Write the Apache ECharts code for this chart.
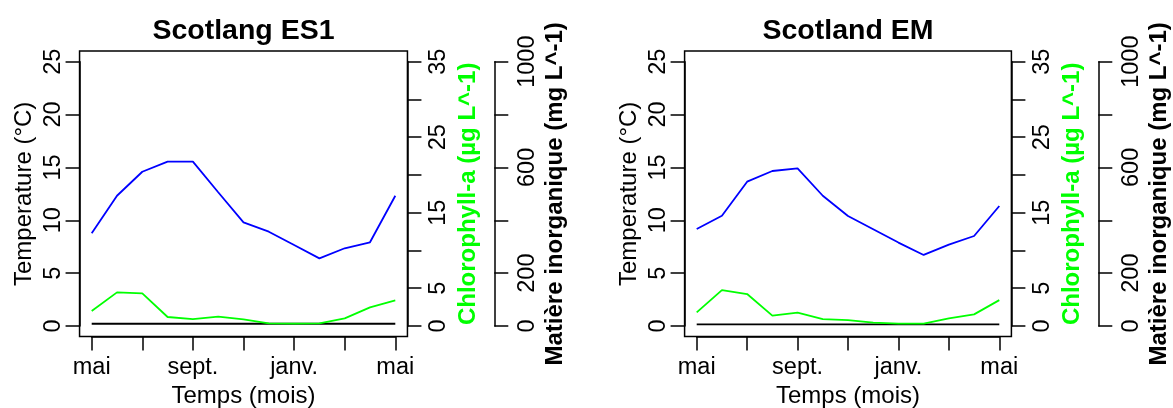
<!DOCTYPE html>
<html><head><meta charset="utf-8">
<script src="https://cdn.jsdelivr.net/npm/echarts@6/dist/echarts.min.js"></script>
<style>html,body{margin:0;padding:0;background:#fff}#c{width:1173px;height:408px}</style>
</head><body><div id="c"></div>
<script>
// ---- data ----
const months = ['mai','juin','juil.','août','sept.','oct.','nov.','déc.','janv.','févr.','mars','avr.','mai'];
const xTickLabels = ['mai','','sept.','','janv.','','mai'];          // ticks every 2 months
const tempTickLabels = ['0','5','10','15','20','25'];
const chlTickLabels = ['0','5','','15','','25','','35'];
const inorgTickLabels = ['0','200','','600','','1000'];

const tempES1 = [8.77, 12.32, 14.59, 15.54, 15.54, 12.65, 9.8, 8.92, 7.66, 6.40, 7.35, 7.92, 12.32];
const chlES1  = [1.98, 4.45, 4.32, 1.19, 0.92, 1.23, 0.88, 0.35, 0.31, 0.35, 1.01, 2.47, 3.39];
const inorgES1 = [8.5, 8.5, 8.5, 8.5, 8.5, 8.5, 8.5, 8.5, 8.5, 8.5, 8.5, 8.5, 8.5];

const tempEM = [9.17, 10.43, 13.65, 14.66, 14.91, 12.32, 10.40, 9.15, 7.89, 6.72, 7.70, 8.51, 11.35];
const chlEM  = [1.80, 4.75, 4.23, 1.37, 1.76, 0.92, 0.79, 0.44, 0.31, 0.31, 1.01, 1.54, 3.43];
const inorgEM = [6.5, 6.5, 6.5, 6.5, 6.5, 6.5, 6.5, 6.5, 6.5, 6.5, 6.5, 6.5, 6.5];

// ---- layout ----
const FONT = 'Liberation Sans, Arial, sans-serif';
const panels = [
  {title: 'Scotlang ES1', L: 91.7, R: 395.3, temp: tempES1, chl: chlES1, inorg: inorgES1},
  {title: 'Scotland EM',  L: 696.7, R: 999.3, temp: tempEM, chl: chlEM, inorg: inorgEM}
];
const T = 61.67, B = 326;

const grid = [], xAxis = [], yAxis = [], series = [], title = [];
const axisCommon = {
  axisLine: {show: true, onZero: false, lineStyle: {color: '#000', width: 1.5}},
  axisTick: {show: true, length: 14, lineStyle: {color: '#000', width: 1.5}},
  splitLine: {show: false}
};
const pts = arr => arr.map((v, i) => [i, v]);

panels.forEach((p, i) => {
  const w = p.R - p.L, h = B - T;
  const ex = 0.04 * w, ey = 0.04 * h;
  grid.push({left: p.L, top: T, width: w, height: h, containLabel: false, outerBoundsMode: 'none'});
  grid.push({left: p.L - ex, top: T - ey, width: w + 2 * ex, height: h + 2 * ey, containLabel: false,
             outerBoundsMode: 'none',
             show: true, borderColor: '#000', borderWidth: 1.5, backgroundColor: 'transparent'});
  title.push({text: p.title, left: p.L + w / 2, top: 17, textAlign: 'center', padding: 0,
              textStyle: {fontFamily: FONT, fontSize: 28.5, fontWeight: 'bold', color: '#000'}});

  xAxis.push(Object.assign({}, axisCommon, {
    type: 'value', gridIndex: 2 * i, min: 0, max: 12, interval: 2, position: 'bottom', offset: ey,
    axisLabel: {fontFamily: FONT, fontSize: 23.5, color: '#000', margin: 19,
                formatter: v => xTickLabels[Math.round(v / 2)] || ''},
    name: 'Temps (mois)', nameLocation: 'middle', nameGap: 46,
    nameTextStyle: {fontFamily: FONT, fontSize: 24, color: '#000'}
  }));
  xAxis.push({type: 'value', gridIndex: 2 * i + 1, show: false, min: 0, max: 1});

  yAxis.push(Object.assign({}, axisCommon, {
    type: 'value', gridIndex: 2 * i, min: 0, max: 25, interval: 5, position: 'left', offset: ex,
    axisLabel: {fontFamily: FONT, fontSize: 23.5, color: '#000', rotate: 90, margin: 14,
                formatter: v => tempTickLabels[Math.round(v / 5)] || ''},
    name: 'Temperature (°C)', nameLocation: 'middle', nameGap: 43,
    nameTextStyle: {fontFamily: FONT, fontSize: 24, color: '#000'}
  }));
  yAxis.push(Object.assign({}, axisCommon, {
    type: 'value', gridIndex: 2 * i, min: 0, max: 35, interval: 5, position: 'right', offset: ex,
    axisLabel: {fontFamily: FONT, fontSize: 23.5, color: '#000', rotate: 90, margin: 19,
                formatter: v => chlTickLabels[Math.round(v / 5)] || ''},
    name: 'Chlorophyll-a (µg L^-1)', nameLocation: 'middle', nameGap: 49,
    nameTextStyle: {fontFamily: FONT, fontSize: 24, color: '#00FF00', fontWeight: 'bold'}
  }));
  yAxis.push(Object.assign({}, axisCommon, {
    type: 'value', gridIndex: 2 * i, min: 0, max: 1000, interval: 200, position: 'right', offset: 99,
    axisLabel: {fontFamily: FONT, fontSize: 23.5, color: '#000', rotate: 90, margin: 21,
                formatter: v => inorgTickLabels[Math.round(v / 200)] || ''},
    name: 'Matière inorganique (mg L^-1)', nameLocation: 'middle', nameGap: 49,
    nameTextStyle: {fontFamily: FONT, fontSize: 24, color: '#000', fontWeight: 'bold'}
  }));
  yAxis.push({type: 'value', gridIndex: 2 * i + 1, show: false, min: 0, max: 1});

  const base = {type: 'line', symbol: 'none', xAxisIndex: 2 * i, animation: false, silent: true};
  series.push(Object.assign({}, base, {name: 'inorg' + i, yAxisIndex: 4 * i + 2, data: pts(p.inorg),
    lineStyle: {color: '#000', width: 1.8}}));
  series.push(Object.assign({}, base, {name: 'chl' + i, yAxisIndex: 4 * i + 1, data: pts(p.chl),
    lineStyle: {color: '#00FF00', width: 1.8}}));
  series.push(Object.assign({}, base, {name: 'temp' + i, yAxisIndex: 4 * i, data: pts(p.temp),
    lineStyle: {color: '#0000FF', width: 1.8}}));
});

const chart = echarts.init(document.getElementById('c'), null, {renderer: 'canvas'});
chart.setOption({animation: false, backgroundColor: '#fff', title, grid, xAxis, yAxis, series});
</script></body></html>
